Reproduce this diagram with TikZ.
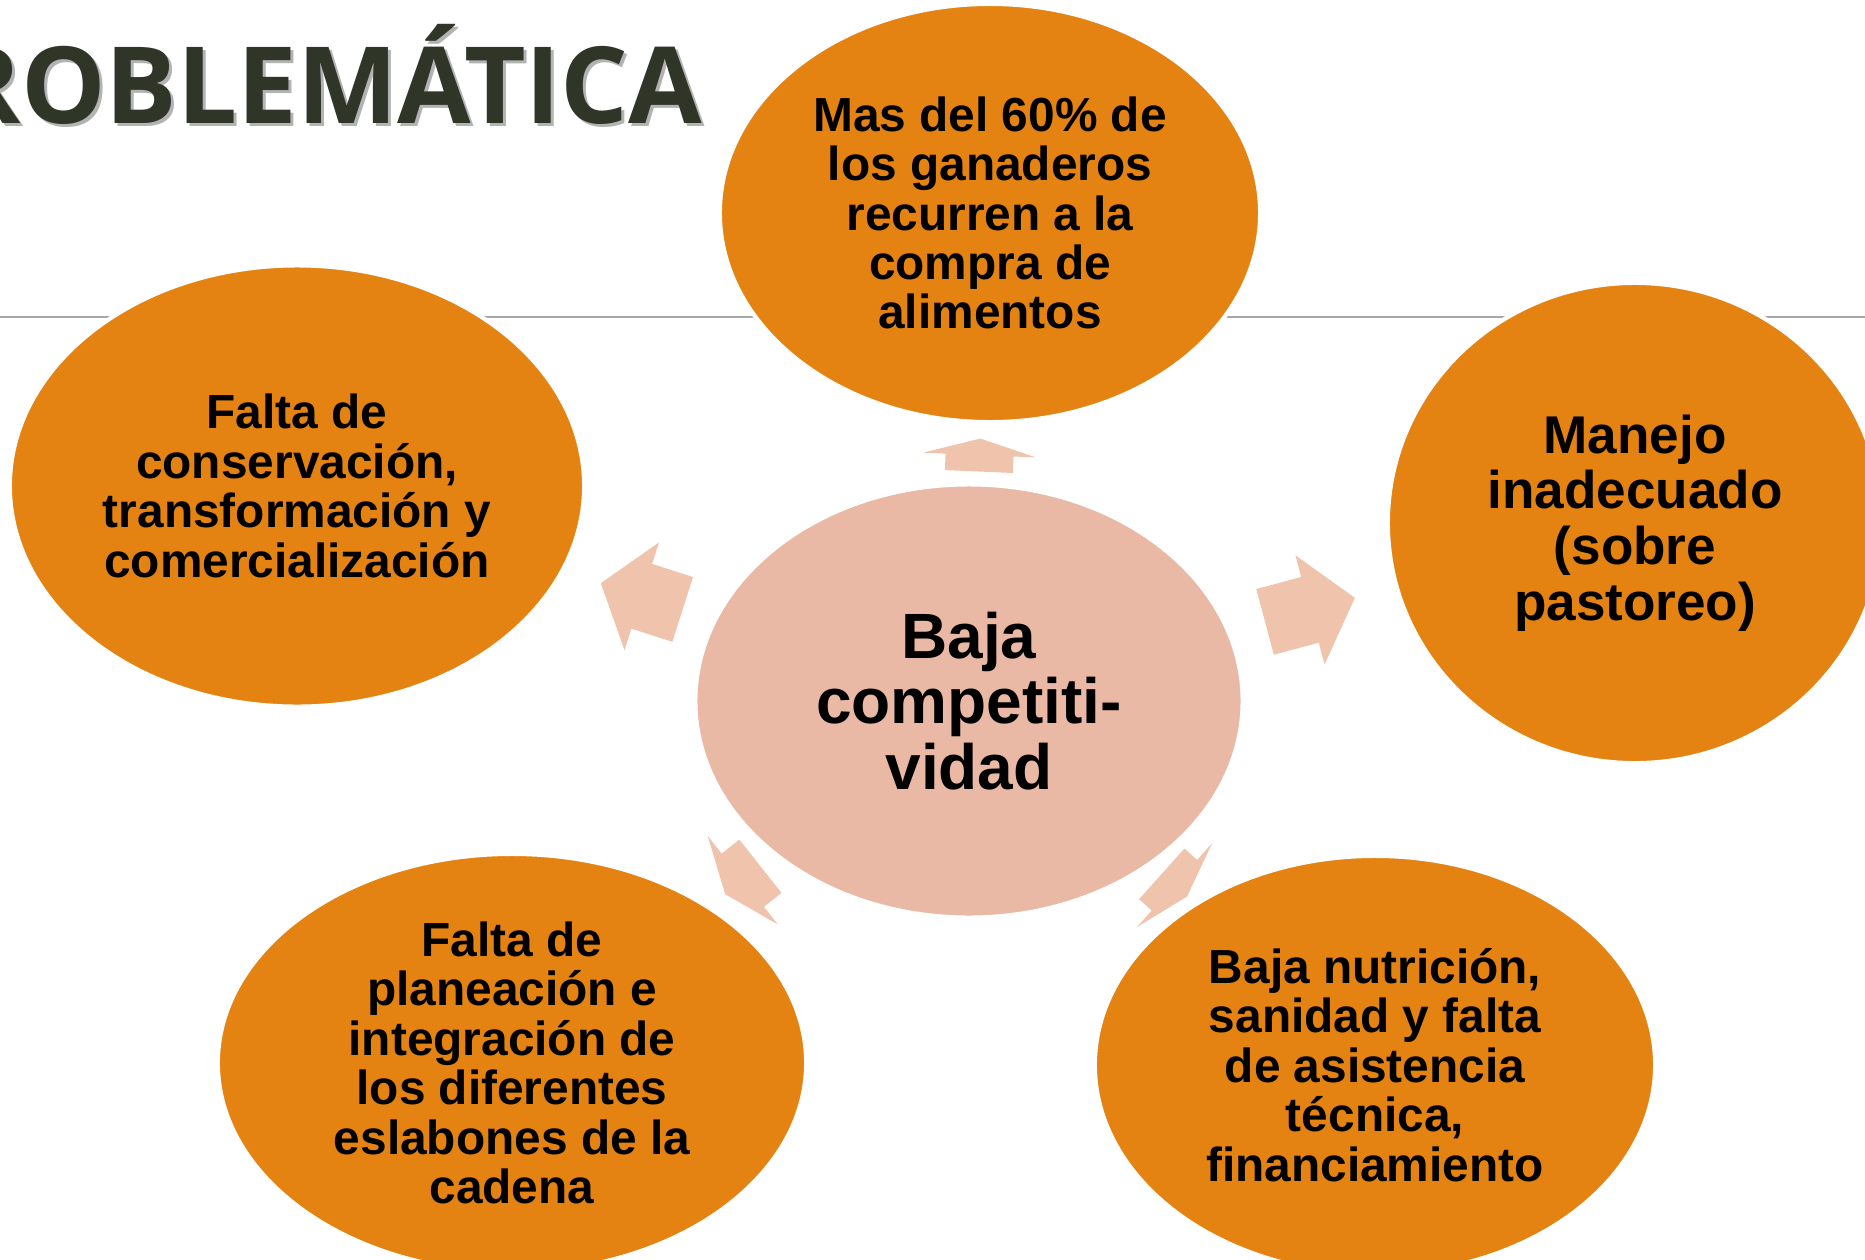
\documentclass[tikz,border=0pt]{standalone}
\usepackage{fontspec}
\setmainfont{Liberation Sans}
\newfontfamily\titlefont{Open Sans}
\usetikzlibrary{shapes.geometric}
\definecolor{naranja}{RGB}{228,131,18}
\definecolor{salmon}{RGB}{233,185,165}
\definecolor{flecha}{RGB}{240,195,172}
\definecolor{oliva}{RGB}{47,54,40}
\begin{document}
\begin{tikzpicture}[
    x=0.01cm, y=-0.01cm,
    problema/.style={ellipse, draw=white, line width=1.2pt, fill=naranja, inner sep=0pt, align=center, font=\bfseries\fontsize{13.6}{14.05}\selectfont},
    centro/.style={problema, fill=salmon, font=\bfseries\fontsize{18.2}{18.6}\selectfont},
    titulo/.style={font=\titlefont\bfseries\fontsize{30.3}{30.3}\selectfont, text=oliva, inner sep=0pt},
    regla/.style={draw=gray!70, line width=0.6pt},
    rayo/.style={sloped, allow upside down, pos=#1},
    spoke/.pic={\fill[flecha] (-#1/2,-34) -- (0,-34) -- (0,-56.5) -- (#1/2,0) -- (0,56.5) -- (0,34) -- (-#1/2,34) -- cycle;}
]

\useasboundingbox (0,0) rectangle (1865,1260);
\clip (0,0) rectangle (1865,1260);

% Titulo y linea
\node[titulo, text=black!50, opacity=0.6, anchor=base east] (sombra) at (706,126) {PROBLEMÁTICA};
\node[titulo, anchor=base east] (titulo) at (703,123) {PROBLEMÁTICA};
\draw[regla] (0,317) -- (1865,317);

% Problemas
\node[problema, minimum width=5.40cm, minimum height=4.18cm] (alimentos) at (990,213) {Mas del 60\% de\\los ganaderos\\recurren a la\\compra de\\alimentos};
\node[problema, minimum width=5.74cm, minimum height=4.41cm] (conservacion) at (297,486) {Falta de\\conservación,\\transformación y\\comercialización};
\node[problema, font=\bfseries\fontsize{15.1}{15.8}\selectfont, minimum width=4.94cm, minimum height=4.80cm] (manejo) at (1635,523) {Manejo\\inadecuado\\(sobre\\pastoreo)};
\node[problema, minimum width=5.88cm, minimum height=4.18cm] (planeacion) at (512,1063) {Falta de\\planeación e\\integración de\\los diferentes\\eslabones de la\\cadena};
\node[problema, minimum width=5.60cm, minimum height=4.18cm] (nutricion) at (1375,1065) {Baja nutrición,\\sanidad y falta\\de asistencia\\técnica,\\financiamiento};
\node[centro, minimum width=5.47cm, minimum height=4.33cm] (baja) at (969,701) {Baja\\competiti-\\vidad};

% Flechas hacia afuera
\path (baja.center) -- pic[rayo=0.504] {spoke=33} (alimentos.center);
\path (baja.center) -- pic[rayo=0.487] {spoke=86} (conservacion.center);
\path (baja.center) -- pic[rayo=0.512] {spoke=93} (manejo.center);
\path (baja.center) -- pic[rayo=0.495] {spoke=45} (planeacion.center);
\path (baja.center) -- pic[rayo=0.506] {spoke=34} (nutricion.center);

\end{tikzpicture}
\end{document}
